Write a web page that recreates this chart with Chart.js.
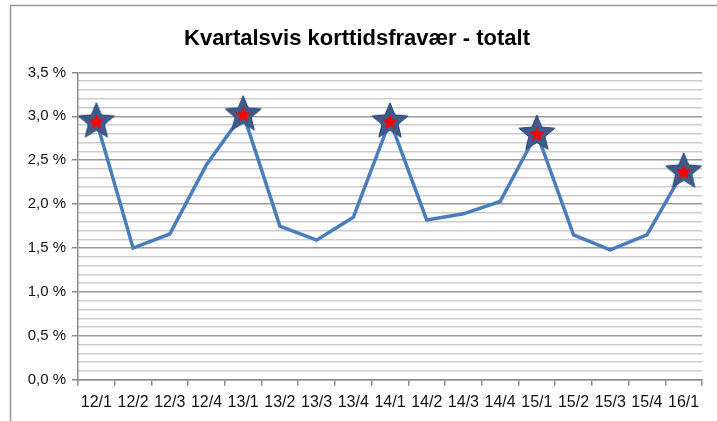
<!DOCTYPE html>
<html>
<head>
<meta charset="utf-8">
<script src="https://cdn.jsdelivr.net/npm/chart.js@4.4.0/dist/chart.umd.min.js"></script>
<style>
  html, body { margin: 0; padding: 0; background: #fff; }
  #wrap { position: relative; width: 717px; height: 421px; }
</style>
</head>
<body>
<div id="wrap"><canvas id="fravaerChart" width="717" height="421"></canvas></div>
<script>
// kvartal og verdier (prosent)
const quarters = ['12/1', '12/2', '12/3', '12/4', '13/1', '13/2', '13/3', '13/4',
                  '14/1', '14/2', '14/3', '14/4', '15/1', '15/2', '15/3', '15/4', '16/1'];
const fravaer = [2.95, 1.50, 1.66, 2.45, 3.03, 1.75, 1.59, 1.85,
                 2.95, 1.82, 1.89, 2.03, 2.81, 1.65, 1.48, 1.65, 2.38];
const yTicks = [0, 0.5, 1.0, 1.5, 2.0, 2.5, 3.0, 3.5];

// stjerne-markør for første kvartal
function starPath(ctx, cx, cy, outer, inner) {
    ctx.beginPath();
    for (let i = 0; i < 10; i++) {
        const r = i % 2 === 0 ? outer : inner;
        const a = -Math.PI / 2 + i * Math.PI / 5;
        const x = cx + r * Math.cos(a);
        const y = cy + r * Math.sin(a);
        if (i === 0) ctx.moveTo(x, y); else ctx.lineTo(x, y);
    }
    ctx.closePath();
}

const star = document.createElement('canvas');
star.width = 42;
star.height = 42;
const sctx = star.getContext('2d');
starPath(sctx, 21, 22, 19, 8.5);
sctx.fillStyle = '#3d5c8c';
sctx.fill();
sctx.strokeStyle = '#2b4470';
sctx.lineWidth = 1;
sctx.stroke();
starPath(sctx, 21, 22.5, 8.5, 3.6);
sctx.fillStyle = '#ff0000';
sctx.fill();

const pointStyles = quarters.map(q => q.endsWith('/1') ? star : 'circle');
const pointRadii = quarters.map(q => q.endsWith('/1') ? 10 : 0);

const frame = {
    id: 'frame',
    beforeDraw(chart) {
        const c = chart.ctx;
        c.save();
        c.fillStyle = '#fff';
        c.fillRect(0, 0, chart.width, chart.height);
        c.strokeStyle = '#9a9a9a';
        c.lineWidth = 1.5;
        c.beginPath();
        c.moveTo(10.5, 500);
        c.lineTo(10.5, 5.5);
        c.lineTo(800, 5.5);
        c.stroke();
        c.restore();
    }
};

const ctx = document.getElementById('fravaerChart');

new Chart(ctx, {
    type: 'line',
    data: {
        labels: quarters,
        datasets: [{
            label: 'Korttidsfravær',
            data: fravaer,
            borderColor: '#4a7ebb',
            borderWidth: 3.5,
            tension: 0,
            fill: false,
            pointStyle: pointStyles,
            pointRadius: pointRadii,
            pointHoverRadius: pointRadii
        }]
    },
    options: {
        responsive: false,
        animation: false,
        events: [],
        layout: { padding: { left: 12, right: 15, top: 4, bottom: 2 } },
        plugins: {
            legend: { display: false },
            tooltip: { enabled: false },
            title: {
                display: true,
                text: 'Kvartalsvis korttidsfravær - totalt',
                color: '#000',
                font: { family: 'Liberation Sans', size: 22, weight: 'bold' },
                padding: { top: 22, bottom: 20 }
            }
        },
        scales: {
            x: {
                offset: true,
                grid: {
                    offset: true,
                    drawOnChartArea: false,
                    tickLength: 6,
                    color: '#8c8c8c',
                    lineWidth: 1.5
                },
                border: { color: '#8c8c8c', width: 1.5 },
                ticks: {
                    color: '#111',
                    maxRotation: 0,
                    autoSkip: false,
                    padding: 7,
                    font: { family: 'Liberation Sans', size: 16 }
                }
            },
            y: {
                min: yTicks[0],
                max: yTicks[yTicks.length - 1],
                afterFit: s => { s.width = 66; },
                ticks: {
                    stepSize: 0.1,
                    autoSkip: false,
                    color: '#111',
                    padding: 6,
                    font: { family: 'Liberation Sans', size: 15 },
                    callback: function (v) {
                        const t = Math.round(v * 10) / 10;
                        return yTicks.includes(t) ? t.toFixed(1).replace('.', ',') + ' %' : '';
                    }
                },
                grid: {
                    tickLength: 6,
                    lineWidth: 1.5,
                    color: c => (Math.round(c.tick.value * 10) % 5 === 0) ? '#9a9a9a' : '#cccccc',
                    tickColor: c => (Math.round(c.tick.value * 10) % 5 === 0) ? '#8c8c8c' : 'rgba(0,0,0,0)'
                },
                border: { color: '#8c8c8c', width: 1.5 }
            }
        }
    },
    plugins: [frame]
});
</script>
</body>
</html>
